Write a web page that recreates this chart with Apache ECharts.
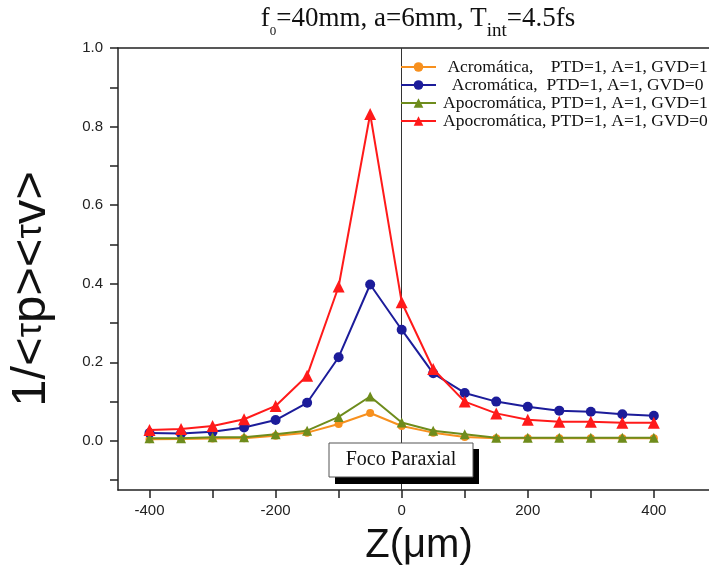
<!DOCTYPE html>
<html><head><meta charset="utf-8">
<script src="https://cdn.jsdelivr.net/npm/echarts@6/dist/echarts.min.js"></script>
<style>html,body{margin:0;padding:0;background:#fff}#c{width:709px;height:571px}</style>
</head><body><div id="c"></div>
<script>
// ---- data ----
const zPositions = [-400,-350,-300,-250,-200,-150,-100,-50,0,50,100,150,200,250,300,350,400];
const acroGVD1 = [0.004,0.005,0.006,0.007,0.013,0.021,0.043,0.071,0.038,0.021,0.010,0.007,0.007,0.007,0.007,0.007,0.007];
const acroGVD0 = [0.020,0.019,0.023,0.034,0.053,0.097,0.213,0.398,0.283,0.172,0.122,0.100,0.087,0.077,0.074,0.068,0.064];
const apoGVD1  = [0.007,0.007,0.009,0.009,0.017,0.026,0.061,0.113,0.047,0.026,0.017,0.008,0.008,0.008,0.008,0.008,0.008];
const apoGVD0  = [0.028,0.030,0.038,0.055,0.089,0.166,0.393,0.832,0.353,0.183,0.100,0.070,0.054,0.049,0.049,0.046,0.046];
const seriesNames = [
  ' Acromática,    PTD=1, A=1, GVD=1',
  '  Acromática,  PTD=1, A=1, GVD=0',
  'Apocromática, PTD=1, A=1, GVD=1',
  'Apocromática, PTD=1, A=1, GVD=0'
];
const xTickLabels = [-400,-200,0,200,400];
const yTickLabels = ['0.0','0.2','0.4','0.6','0.8','1.0'];
const annotationText = 'Foco Paraxial';

// ---- layout ----
const GL=118, GT=48, GR=709, GB=490;
const XMIN=-450, XMAX=487.5, YMIN=-0.125, YMAX=1.0;
const kx=(GR-GL)/(XMAX-XMIN), ky=(GB-GT)/(YMAX-YMIN);
const AX='#222';
const sans='Liberation Sans, Arial, sans-serif';
const serif='Liberation Serif, Times New Roman, serif';

const colors=['#f7901e','#1c1c9a','#6e8c1c','#ff1a1a'];
const symbols=['circle','circle','triangle','triangle'];
const sizes=[8,10,10,12];
const arrays=[acroGVD1,acroGVD0,apoGVD1,apoGVD0];

const series = arrays.map((arr,i)=>({
  name: seriesNames[i], type:'line', xAxisIndex:0, yAxisIndex:0,
  data: zPositions.map((z,j)=>[z,arr[j]]),
  symbol: symbols[i], symbolSize: sizes[i],
  lineStyle:{color:colors[i], width:2},
  itemStyle:{color:colors[i]},
  z: 3+i
}));
series[0].markLine = {
  silent:true, symbol:['none','none'], label:{show:false},
  lineStyle:{color:'#333', width:1, type:'solid'},
  data:[{xAxis:0}], z:1
};

const chart = echarts.init(document.getElementById('c'), null, {renderer:'canvas'});
chart.setOption({
  animation:false,
  backgroundColor:'#fff',
  title:{
    left:418, top:5, padding:0, textAlign:'center',
    text:'{a|f}{s|0}{a|=40mm, a=6mm, T}{b|int}{a|=4.5fs}',
    textStyle:{
      fontWeight:'normal',
      rich:{
        a:{fontFamily:serif, fontSize:27, fontWeight:'normal', color:'#111', lineHeight:28, verticalAlign:'top'},
        s:{fontFamily:serif, fontSize:13, fontWeight:'normal', color:'#111', lineHeight:14, padding:[20,0,0,0], verticalAlign:'top'},
        b:{fontFamily:serif, fontSize:19, fontWeight:'normal', color:'#111', lineHeight:16, padding:[17,0,0,0], verticalAlign:'top'}
      }
    }
  },
  legend:{
    left:395, top:53, orient:'vertical', itemGap:0, itemWidth:35, itemHeight:12,
    data: seriesNames,
    textStyle:{fontFamily:serif, fontSize:17.5, color:'#111', lineHeight:16, padding:[0,0,0,2]}
  },
  grid:[
    {left:GL, top:GT, width:GR-GL, height:GB-GT},
    {left:GL, top:GT, width:GR-GL, height:(YMAX+0.1)*ky},
    {left:GL+(-400-XMIN)*kx, top:GT, width:800*kx, height:GB-GT}
  ],
  xAxis:[
    {gridIndex:0, type:'value', min:XMIN, max:XMAX,
     axisLine:{show:true, onZero:false, lineStyle:{color:AX, width:1.5}},
     axisTick:{show:false}, axisLabel:{show:false}, splitLine:{show:false}},
    {gridIndex:0, type:'value', position:'top', min:XMIN, max:XMAX,
     axisLine:{show:true, onZero:false, lineStyle:{color:AX, width:1.5}},
     axisTick:{show:false}, axisLabel:{show:false}, splitLine:{show:false}},
    {gridIndex:2, type:'value', min:-400, max:400, interval:100,
     axisLine:{show:false, onZero:false},
     axisTick:{show:true, length:8, lineStyle:{color:AX, width:1.5}},
     axisLabel:{margin:13, fontSize:15, color:'#222', fontFamily:sans,
       formatter:v=> xTickLabels.indexOf(Math.round(v))>=0 ? String(Math.round(v)) : ''},
     splitLine:{show:false}},
    {gridIndex:1, type:'value', show:false, min:XMIN, max:XMAX, axisLine:{onZero:false}}
  ],
  yAxis:[
    {gridIndex:0, type:'value', min:YMIN, max:YMAX,
     axisLine:{show:true, onZero:false, lineStyle:{color:AX, width:1.5}},
     axisTick:{show:false}, axisLabel:{show:false}, splitLine:{show:false}},
    {gridIndex:1, type:'value', min:-0.1, max:YMAX, interval:0.1,
     axisLine:{show:false, onZero:false},
     axisTick:{show:true, length:8, lineStyle:{color:AX, width:1.5}},
     axisLabel:{margin:15, fontSize:15, color:'#222', fontFamily:sans,
       formatter:v=>{const r=Math.round(v*10); return (r>=0 && r%2===0) ? yTickLabels[r/2] : '';}},
     splitLine:{show:false}},
    {gridIndex:2, type:'value', show:false, min:YMIN, max:YMAX, axisLine:{onZero:false}}
  ],
  graphic:[
    {type:'text', x:31, y:289, rotation:Math.PI/2, z:100,
     style:{text:'{a|1/<}{t|τ}{a|p><}{t|τ}{a|v>}', align:'center', verticalAlign:'middle',
       rich:{a:{fontFamily:sans, fontSize:49, fill:'#111'}, t:{fontFamily:sans, fontSize:36, fill:'#111'}}}},
    {type:'text', x:419, y:546, z:100,
     style:{text:'Z(μm)', fontFamily:sans, fontSize:40, fill:'#111', align:'center', verticalAlign:'middle'}},
    {type:'rect', shape:{x:335, y:449, width:144, height:35}, style:{fill:'#000'}, z:100},
    {type:'rect', shape:{x:329, y:443, width:144, height:34}, style:{fill:'#fff', stroke:'#555', lineWidth:1}, z:101},
    {type:'text', x:401, y:460, z:102,
     style:{text:annotationText, fontFamily:serif, fontSize:20, fill:'#111', align:'center', verticalAlign:'middle'}}
  ],
  series: series
});
</script>
</body></html>
